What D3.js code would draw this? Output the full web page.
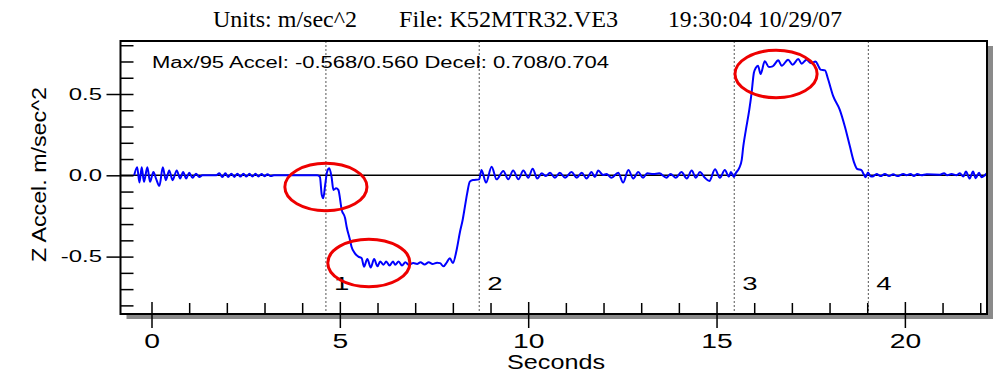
<!DOCTYPE html>
<html>
<head>
<meta charset="utf-8">
<script src="https://cdn.jsdelivr.net/npm/d3@7"></script>
<style>
body { margin: 0; background: #fff; }
svg { display: block; }
</style>
</head>
<body>
<svg width="1002" height="373"></svg>
<script>
// readings: [seconds, m/sec^2]
var restBefore = [
  [-0.46, 0], [-0.38, 0.05], [-0.32, -0.045], [-0.26, 0.05], [-0.20, -0.04], [-0.11, 0.05],
  [-0.04, -0.04], [0.05, 0.02], [0.12, -0.02], [0.21, -0.065], [0.30, 0.05], [0.38, -0.03],
  [0.47, 0.03], [0.56, -0.03], [0.67, 0.03], [0.76, -0.02], [0.84, 0.02], [0.92, -0.02],
  [1.00, 0.015], [1.09, -0.015], [1.18, 0.01], [1.27, -0.01], [1.35, 0], [1.72, 0],
  [1.80, 0.012], [1.88, -0.01], [1.96, 0.012], [2.04, -0.01], [2.12, 0.01], [2.20, -0.01],
  [2.28, 0.01], [2.36, -0.008], [2.44, 0.01], [2.52, -0.008], [2.60, 0.009], [2.68, -0.008],
  [2.76, 0.009], [2.84, -0.007], [2.92, 0.008], [3.00, -0.006], [3.08, 0.007], [3.16, -0.005],
  [3.25, 0], [4.40, 0]
];
var decelEntry = [
  [4.47, -0.01], [4.52, -0.12], [4.56, -0.141], [4.61, -0.06], [4.66, 0.02], [4.72, 0.043],
  [4.78, -0.01], [4.83, -0.09], [4.90, -0.08], [4.96, -0.09], [5.05, -0.213], [5.14, -0.264],
  [5.18, -0.316], [5.27, -0.398], [5.31, -0.439], [5.40, -0.48], [5.49, -0.50], [5.58, -0.51],
  [5.64, -0.562]
];
var decelPlateau = [
  [5.73, -0.515], [5.82, -0.567], [5.91, -0.515], [6.00, -0.56], [6.07, -0.53], [6.16, -0.55],
  [6.23, -0.53], [6.32, -0.555], [6.41, -0.53], [6.47, -0.55], [6.56, -0.53], [6.65, -0.555],
  [6.74, -0.535], [6.83, -0.55], [6.95, -0.54], [7.05, -0.545], [7.14, -0.535], [7.25, -0.548],
  [7.36, -0.535], [7.46, -0.545], [7.58, -0.538], [7.66, -0.54], [7.75, -0.56], [7.84, -0.535],
  [7.92, -0.51], [8.00, -0.54]
];
var decelExit = [
  [8.10, -0.459], [8.19, -0.347], [8.26, -0.275], [8.32, -0.193], [8.38, -0.111], [8.45, -0.039],
  [8.53, -0.029], [8.70, -0.025]
];
var cruise = [
  [8.76, 0.033], [8.88, -0.045], [9.03, 0.053], [9.16, -0.025], [9.34, 0.026], [9.47, -0.025],
  [9.60, 0.029], [9.74, -0.025], [9.87, 0.029], [10.00, -0.015], [10.12, 0.041], [10.24, -0.02],
  [10.36, 0.012], [10.47, -0.004], [10.58, 0.016], [10.71, -0.015], [10.84, 0.016], [10.98, -0.015],
  [11.15, 0.02], [11.29, -0.015], [11.42, 0.016], [11.55, -0.02], [11.68, 0.02], [11.77, -0.01],
  [11.86, 0.029], [11.99, 0.002], [12.08, 0.008], [12.21, -0.015], [12.39, 0.016], [12.52, -0.045],
  [12.66, 0.033], [12.79, -0.02], [12.92, 0.02], [13.05, -0.015], [13.16, 0.012], [13.32, 0.008],
  [13.48, 0.012], [13.67, -0.015], [13.78, 0.008], [13.92, -0.015], [14.07, 0.02], [14.21, -0.02],
  [14.34, 0.029], [14.45, -0.015], [14.56, 0.02], [14.69, -0.015], [14.81, -0.035], [14.96, 0.037],
  [15.09, -0.015], [15.22, 0.033], [15.33, -0.008], [15.38, 0.02], [15.46, -0.01]
];
var accelRise = [
  [15.51, 0.013], [15.60, 0.044], [15.67, 0.096], [15.71, 0.178], [15.78, 0.281], [15.87, 0.404],
  [15.93, 0.506], [15.99, 0.629], [16.04, 0.66], [16.10, 0.674]
];
var accelPlateau = [
  [16.17, 0.623], [16.28, 0.701], [16.39, 0.666], [16.49, 0.67], [16.64, 0.707], [16.73, 0.674],
  [16.90, 0.711], [17.02, 0.68], [17.17, 0.715], [17.26, 0.686], [17.39, 0.711], [17.50, 0.69],
  [17.63, 0.70], [17.70, 0.674], [17.76, 0.65], [17.88, 0.645]
];
var accelExit = [
  [17.96, 0.592], [18.10, 0.485], [18.27, 0.404], [18.41, 0.297], [18.54, 0.178], [18.65, 0.08],
  [18.73, 0.04], [18.85, 0.031], [18.90, 0.01], [18.96, -0.012], [19.02, 0.018], [19.09, -0.006]
];
var restAfter = [
  [19.14, -0.008], [19.25, 0.008], [19.35, -0.005], [19.47, 0.008], [19.58, -0.005], [19.69, 0.006],
  [19.80, -0.005], [19.96, 0.008], [20.04, 0], [20.15, 0.008], [20.24, -0.005], [20.33, 0.008],
  [20.44, 0], [20.58, 0.006], [20.93, 0.004], [21.04, 0.012], [21.12, 0], [21.24, 0.008],
  [21.37, 0], [21.46, 0.012], [21.55, -0.008], [21.62, 0.023], [21.72, -0.02], [21.81, 0.023],
  [21.88, -0.018], [21.97, 0.016], [22.03, -0.012], [22.17, 0.012]
];

var markerSec = [4.63, 8.70, 15.47, 19.03];
var markerNames = ["1", "2", "3", "4"];
var circled = [[4.63, -0.072], [5.77, -0.539], [16.58, 0.623]];

var majorSec = [0, 5, 10, 15, 20];
var minorSec = [1, 2, 3, 4, 6, 7, 8, 9, 11, 12, 13, 14, 16, 17, 18, 19, 21, 22];
var majorAcc = [-0.5, 0, 0.5];
var minorAcc = [-0.8, -0.7, -0.6, -0.4, -0.3, -0.2, -0.1, 0.1, 0.2, 0.3, 0.4, 0.6, 0.7, 0.8];

var titleParts = ["Units: m/sec^2", "File: K52MTR32.VE3", "19:30:04 10/29/07"];
var statsText = "Max/95 Accel: -0.568/0.560 Decel: 0.708/0.704";

var trace = [].concat(restBefore, decelEntry, decelPlateau, decelExit, cruise,
  accelRise, accelPlateau, accelExit, restAfter);

var svg = d3.select("svg");
var pLeft = 120.5, pRight = 987, pTop = 41, pBottom = 314;
var sx = 1.45; // the original lettering is stretched sideways

var x = d3.scaleLinear().domain([-0.823, 22.18]).range([pLeft, pRight]);
var y = d3.scaleLinear().domain([-0.853, 0.826]).range([pBottom, pTop]);

var sans = "Arial, 'Liberation Sans', sans-serif";

// title
var titleX = [213, 399, 668], titleW = [144, 219, 174];
svg.selectAll(".title").data(titleParts).enter().append("text")
  .attr("class", "title")
  .attr("x", function(d, i) { return titleX[i]; })
  .attr("y", 27)
  .attr("font-family", "'Times New Roman', 'Liberation Serif', serif")
  .attr("font-size", 23)
  .attr("textLength", function(d, i) { return titleW[i]; })
  .attr("lengthAdjust", "spacingAndGlyphs")
  .text(function(d) { return d; });

// frame with drop shadow
svg.append("rect")
  .attr("x", pLeft + 6).attr("y", pTop + 5)
  .attr("width", pRight - pLeft).attr("height", pBottom - pTop)
  .attr("fill", "#8a8a8a");
svg.append("rect")
  .attr("x", pLeft).attr("y", pTop)
  .attr("width", pRight - pLeft).attr("height", pBottom - pTop)
  .attr("fill", "#fff");

svg.append("defs").append("clipPath").attr("id", "plot")
  .append("rect").attr("x", pLeft).attr("y", pTop)
  .attr("width", pRight - pLeft).attr("height", pBottom - pTop);

var plot = svg.append("g").attr("clip-path", "url(#plot)");

// event markers
plot.selectAll(".marker").data(markerSec).enter().append("line")
  .attr("class", "marker")
  .attr("x1", x).attr("x2", x)
  .attr("y1", pTop).attr("y2", pBottom)
  .attr("stroke", "#555")
  .attr("stroke-width", 1)
  .attr("stroke-dasharray", "2,2");

plot.selectAll(".mlabel").data(markerSec).enter().append("text")
  .attr("class", "mlabel")
  .attr("transform", function(d) { return "translate(" + (x(d) + 8) + ",290) scale(" + sx + ",1)"; })
  .attr("font-family", sans)
  .attr("font-size", 19)
  .text(function(d, i) { return markerNames[i]; });

// zero line
plot.append("line")
  .attr("x1", pLeft).attr("x2", pRight)
  .attr("y1", y(0)).attr("y2", y(0))
  .attr("stroke", "#000").attr("stroke-width", 1.5);

var line = d3.line()
  .x(function(d) { return x(d[0]); })
  .y(function(d) { return y(d[1]); })
  .curve(d3.curveMonotoneX);

plot.append("path")
  .datum(trace)
  .attr("d", line)
  .attr("fill", "none")
  .attr("stroke", "#0000ff")
  .attr("stroke-width", 2);

// highlighted spots
plot.selectAll(".spot").data(circled).enter().append("ellipse")
  .attr("class", "spot")
  .attr("cx", function(d) { return x(d[0]); })
  .attr("cy", function(d) { return y(d[1]); })
  .attr("rx", x(1.09) - x(0))
  .attr("ry", y(0) - y(0.146))
  .attr("fill", "none")
  .attr("stroke", "#ee0000")
  .attr("stroke-width", 3);

plot.append("text")
  .attr("x", 152).attr("y", 67.5)
  .attr("font-family", sans)
  .attr("font-size", 16)
  .attr("textLength", 457)
  .attr("lengthAdjust", "spacingAndGlyphs")
  .text(statsText);

// axes
function tidy(g) {
  g.select(".domain").remove();
  g.selectAll("line").attr("stroke", "#000").attr("stroke-width", 1.5);
}

svg.append("g")
  .attr("transform", "translate(0," + pBottom + ")")
  .call(d3.axisTop(x).tickValues(minorSec).tickSize(11).tickFormat(""))
  .call(tidy);

svg.append("g")
  .attr("transform", "translate(0," + (pBottom - 12) + ")")
  .call(d3.axisBottom(x).tickValues(majorSec).tickSize(26).tickPadding(6)
    .tickFormat(function(d) { return String(d); }))
  .call(tidy)
  .attr("font-family", sans)
  .attr("font-size", 19.5)
  .call(function(g) {
    g.selectAll("text").attr("fill", "#000").attr("transform", "scale(" + sx + ",1)");
  });

svg.append("g")
  .attr("transform", "translate(" + pLeft + ",0)")
  .call(d3.axisRight(y).tickValues(minorAcc).tickSize(13).tickFormat(""))
  .call(tidy);

svg.append("g")
  .attr("transform", "translate(" + (pLeft + 13) + ",0)")
  .call(d3.axisLeft(y).tickValues(majorAcc).tickSize(27)
    .tickFormat(function(d) { return d.toFixed(1); }))
  .call(tidy)
  .attr("font-family", sans)
  .attr("font-size", 16.5)
  .call(function(g) {
    g.selectAll("text").attr("fill", "#000")
      .attr("x", -31.5 / sx)
      .attr("transform", "scale(" + sx + ",1)");
  });

// frame border on top
svg.append("rect")
  .attr("x", pLeft).attr("y", pTop)
  .attr("width", pRight - pLeft).attr("height", pBottom - pTop)
  .attr("fill", "none")
  .attr("stroke", "#000")
  .attr("stroke-width", 2);

// axis titles
svg.append("text")
  .attr("x", 556).attr("y", 369)
  .attr("text-anchor", "middle")
  .attr("font-family", sans)
  .attr("font-size", 19.5)
  .attr("textLength", 98)
  .attr("lengthAdjust", "spacingAndGlyphs")
  .text("Seconds");

svg.append("text")
  .attr("transform", "translate(46,174.5) rotate(-90)")
  .attr("text-anchor", "middle")
  .attr("font-family", sans)
  .attr("font-size", 21)
  .attr("textLength", 175)
  .attr("lengthAdjust", "spacingAndGlyphs")
  .text("Z Accel. m/sec^2");
</script>
</body>
</html>
